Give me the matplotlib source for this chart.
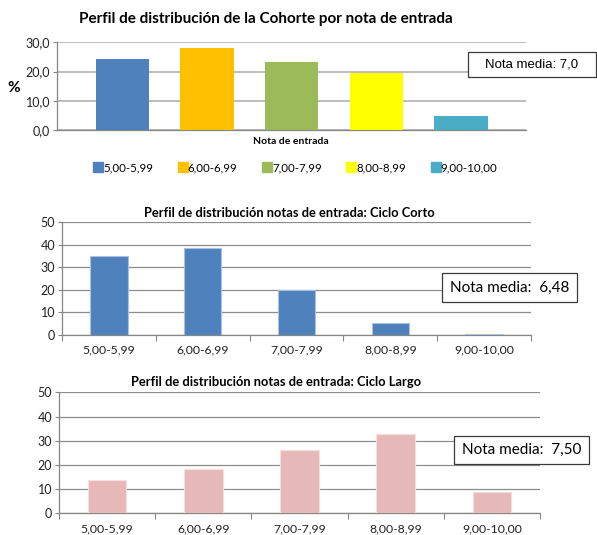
import matplotlib
matplotlib.use('Agg')
import matplotlib.pyplot as plt
from matplotlib.patches import Rectangle
from matplotlib.lines import Line2D
from matplotlib.ticker import FuncFormatter, MultipleLocator

plt.rcParams['font.family'] = ['Lato', 'DejaVu Sans']

# data
ranges = ['5,00-5,99', '6,00-6,99', '7,00-7,99', '8,00-8,99', '9,00-10,00']
cohorte = [24.3, 28.1, 23.2, 19.6, 4.8]
ciclo_corto = [35.2, 38.7, 20.0, 5.5, 0.5]
ciclo_largo = [13.8, 18.2, 26.3, 32.8, 8.9]
media_cohorte = '7,0'
media_corto = '6,48'
media_largo = '7,50'
cohorte_colors = ['#4F81BD', '#FFC000', '#9BBB59', '#FFFF00', '#4BACC6']

W, H = 597, 535
fig = plt.figure(figsize=(W / 100, H / 100), dpi=100)


def fx(px):
    return px / W


def fy(py):
    return 1 - py / H


def axes_px(left, top, right, bottom):
    return fig.add_axes([fx(left), fy(bottom), (right - left) / W, (bottom - top) / H])


def style_axes(ax, grid_color, grid_lw):
    for s in ['top', 'right']:
        ax.spines[s].set_visible(False)
    for s in ['left', 'bottom']:
        ax.spines[s].set_color('#868686')
        ax.spines[s].set_linewidth(0.9)
    ax.yaxis.grid(True, color=grid_color, linewidth=grid_lw)
    ax.set_axisbelow(True)
    ax.tick_params(axis='y', length=3, width=0.8, color='#868686',
                   labelsize=9, pad=2, labelcolor='#222222')


def note_box(left, top, right, bottom, text, size, family):
    fig.patches.append(Rectangle((fx(left), fy(bottom)), (right - left) / W,
                                 (bottom - top) / H, transform=fig.transFigure,
                                 facecolor='white', edgecolor='#3a3a3a',
                                 linewidth=0.9, zorder=5))
    fig.text(fx((left + right) / 2), fy((top + bottom) / 2), text, ha='center',
             va='center', fontsize=size, family=family, zorder=6)


# --- top chart: cohorte
ax1 = axes_px(57, 42.3, 526, 130)
x = list(range(len(ranges)))
ax1.bar(x, cohorte, width=0.63, color=cohorte_colors, zorder=3)
ax1.set_xlim(-0.774, 4.77)
ax1.set_ylim(0, 30)
ax1.yaxis.set_major_locator(MultipleLocator(10))
ax1.yaxis.set_major_formatter(FuncFormatter(lambda v, p: f'{v:.1f}'.replace('.', ',')))
style_axes(ax1, '#BDBDBD', 1.4)
ax1.set_xticks([])
fig.text(fx(266), fy(19), 'Perfil de distribución de la Cohorte por nota de entrada',
         ha='center', va='center', fontsize=11, fontweight='bold')
fig.text(fx(14), fy(88), '%', ha='center', va='center', fontsize=11, fontweight='bold')
fig.text(fx(291), fy(141), 'Nota de entrada', ha='center', va='center',
         fontsize=7.5, fontweight='bold')
handles = [Line2D([], [], marker='s', linestyle='', markersize=6.5,
                  markerfacecolor=c, markeredgecolor=c) for c in cohorte_colors]
fig.legend(handles, ranges, loc='center', bbox_to_anchor=(fx(296), fy(168)),
           ncol=5, frameon=False, fontsize=8.3, handlelength=0.6,
           handletextpad=0.15, columnspacing=2.25, borderpad=0)
note_box(468, 52, 596, 77, 'Nota media: ' + media_cohorte, 9.5, 'Liberation Sans')


def cycle_chart(ax, values, color, edge, title, title_x, title_y):
    ax.bar(x, values, width=0.4, color=color, edgecolor=edge, linewidth=0.8, zorder=3)
    ax.set_xlim(-0.5, 4.5)
    ax.set_ylim(0, 50)
    ax.yaxis.set_major_locator(MultipleLocator(10))
    style_axes(ax, '#8C8C8C', 0.9)
    ax.set_xticks(x)
    ax.set_xticklabels(ranges)
    ax.set_xticks([i - 0.5 for i in range(len(ranges) + 1)], minor=True)
    ax.tick_params(axis='x', which='major', length=0, labelsize=8.8, pad=7,
                   labelcolor='#222222')
    ax.tick_params(axis='x', which='minor', length=4, width=0.8, color='#868686')
    fig.text(fx(title_x), fy(title_y), title, ha='center', va='center',
             fontsize=9.3, fontweight='bold')


# --- middle chart: ciclo corto
ax2 = axes_px(62, 222.3, 531, 335)
cycle_chart(ax2, ciclo_corto, '#4F81BD', '#A9C2E0',
            'Perfil de distribución notas de entrada: Ciclo Corto', 289, 213)
note_box(442, 273, 577, 302, 'Nota media:  ' + media_corto, 11, 'Lato')

# --- bottom chart: ciclo largo
ax3 = axes_px(59, 392.3, 540, 513.3)
cycle_chart(ax3, ciclo_largo, '#E6B9B8', '#F5DEDD',
            'Perfil de distribución notas de entrada: Ciclo Largo', 276, 382)
note_box(454, 436, 589, 464, 'Nota media:  ' + media_largo, 11, 'Lato')

plt.savefig('out.png', dpi=100)
